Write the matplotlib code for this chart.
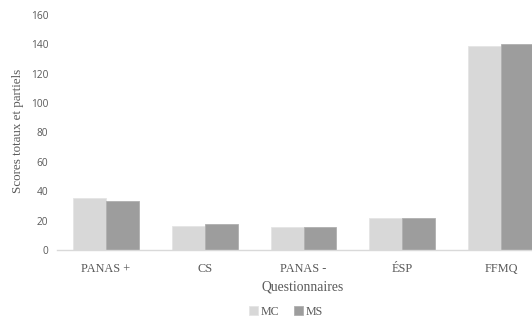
import matplotlib
matplotlib.use("Agg")
import matplotlib.pyplot as plt
import numpy as np

categories = ["PANAS +", "CS", "PANAS -", "ÉSP", "FFMQ"]
mc_scores = [35.2, 16.5, 15.4, 21.6, 138.8]
ms_scores = [33.5, 17.5, 15.6, 22.0, 140.1]
y_ticks = [0, 20, 40, 60, 80, 100, 120, 140, 160]

W, H = 532, 320
fig = plt.figure(figsize=(W / 100, H / 100), dpi=100)
# axes run slightly past the right edge of the canvas
left, right = 56.5, 550.5
bottom, top = 250.0, 14.7
ax = fig.add_axes([left / W, 1 - bottom / H, (right - left) / W, (bottom - top) / H])

x = np.arange(len(categories))
bw = 1 / 3
ax.bar(x - bw / 2, mc_scores, width=bw, color="#d8d8d8", edgecolor="#e4e4e4", linewidth=0.6, label="MC")
ax.bar(x + bw / 2, ms_scores, width=bw, color="#9d9d9d", edgecolor="#b0b0b0", linewidth=0.6, label="MS")

ax.set_xlim(-0.5, len(categories) - 0.5)
ax.set_ylim(0, 160)
ax.set_yticks(y_ticks)
ax.set_yticklabels([str(v) for v in y_ticks], fontsize=7.3, color="#595959", family="Open Sans")
ax.set_xticks(x)
ax.set_xticklabels(categories, fontsize=8.8, color="#595959", family="Liberation Serif")
ax.tick_params(axis="both", length=0)
ax.tick_params(axis="y", pad=6)
ax.tick_params(axis="x", pad=9)

for s in ["top", "right", "left"]:
    ax.spines[s].set_visible(False)
ax.spines["bottom"].set_color("#d9d9d9")
ax.spines["bottom"].set_linewidth(1.0)

fig.text(18 / W, 1 - 131 / H, "Scores totaux et partiels", rotation=90, ha="center", va="center",
         fontsize=9.4, color="#595959", family="Liberation Serif")
fig.text(303 / W, 1 - 287 / H, "Questionnaires", ha="center", va="center",
         fontsize=9.8, color="#595959", family="Liberation Serif")

leg = fig.legend(loc="center", bbox_to_anchor=(286 / W, 1 - 312 / H), ncol=2, frameon=False,
                 prop={"family": "Liberation Serif", "size": 8.6}, handlelength=0.75, handleheight=0.75,
                 handletextpad=0.25, columnspacing=1.2, labelcolor="#595959")

fig.savefig("out.png", dpi=100)
